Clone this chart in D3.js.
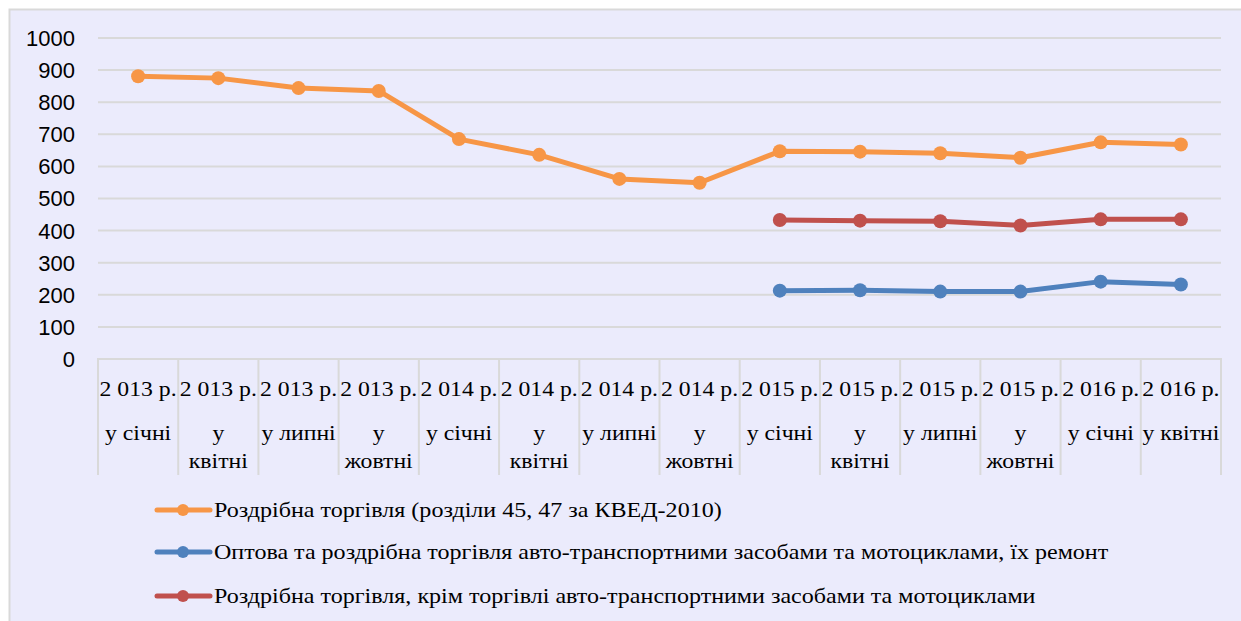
<!DOCTYPE html>
<html>
<head>
<meta charset="utf-8">
<script src="https://cdn.jsdelivr.net/npm/d3@7"></script>
<style>
  html, body { margin: 0; padding: 0; background: #ffffff; }
  svg { display: block; }
  .serif { font-family: "Liberation Serif", "Times New Roman", serif; }
  .sans { font-family: "Liberation Sans", Arial, sans-serif; }
</style>
</head>
<body>
<svg id="chart" width="1241" height="621"></svg>
<script>
// ---- data ----
const categories = [
  "2013-01", "2013-04", "2013-07", "2013-10",
  "2014-01", "2014-04", "2014-07", "2014-10",
  "2015-01", "2015-04", "2015-07", "2015-10",
  "2016-01", "2016-04"
];
const tickLabels = [
  ["2 013 р.", "у січні"], ["2 013 р.", "у", "квітні"], ["2 013 р.", "у липні"], ["2 013 р.", "у", "жовтні"],
  ["2 014 р.", "у січні"], ["2 014 р.", "у", "квітні"], ["2 014 р.", "у липні"], ["2 014 р.", "у", "жовтні"],
  ["2 015 р.", "у січні"], ["2 015 р.", "у", "квітні"], ["2 015 р.", "у липні"], ["2 015 р.", "у", "жовтні"],
  ["2 016 р.", "у січні"], ["2 016 р.", "у квітні"]
];
const retailAll = [881, 875, 844, 835, 685, 636, 561, 549, 647, 646, 641, 627, 675, 668];
const autoTrade = [null, null, null, null, null, null, null, null, 213, 214, 210, 210, 241, 232];
const retailExAuto = [null, null, null, null, null, null, null, null, 433, 431, 429, 416, 435, 435];
const seriesNames = [
  "Роздрібна торгівля (розділи 45, 47 за КВЕД-2010)",
  "Оптова та роздрібна торгівля авто-транспортними засобами та мотоциклами, їх ремонт",
  "Роздрібна торгівля, крім торгівлі авто-транспортними засобами та мотоциклами"
];
const yTicks = [0, 100, 200, 300, 400, 500, 600, 700, 800, 900, 1000];

// ---- styles ----
const colors = ["#F79646", "#4F81BD", "#C0504D"];
const series = [retailAll, autoTrade, retailExAuto];
const bg = "#EBEBFC";
const gridColor = "#D9D9D9";
const stretch = 1.13;
const legendStretch = 1.145;

const svg = d3.select("#chart");

// background
svg.append("rect").attr("x", 9.5).attr("y", 9.5).attr("width", 1250).attr("height", 640)
  .attr("fill", bg).attr("stroke", gridColor).attr("stroke-width", 2);

const x = d3.scaleBand().domain(categories).range([98, 1221]).padding(0);
const y = d3.scaleLinear().domain([0, 1000]).range([359, 38]);

// gridlines
svg.append("g").selectAll("line").data(yTicks.filter(d => d > 0)).join("line")
  .attr("x1", 98).attr("x2", 1221)
  .attr("y1", d => y(d)).attr("y2", d => y(d))
  .attr("stroke", gridColor).attr("stroke-width", 2);

// y tick labels
svg.append("g").selectAll("text").data(yTicks).join("text")
  .attr("class", "sans")
  .attr("x", 75).attr("y", d => y(d)).attr("dy", "0.36em")
  .attr("text-anchor", "end")
  .attr("font-size", 22).attr("fill", "#000")
  .text(d => d);

// x axis line + category separators
svg.append("line").attr("x1", 97).attr("x2", 1222).attr("y1", y(0)).attr("y2", y(0))
  .attr("stroke", gridColor).attr("stroke-width", 2);
const bounds = categories.map(c => x(c)).concat([x.range()[1]]);
svg.append("g").selectAll("line").data(bounds).join("line")
  .attr("x1", d => d).attr("x2", d => d).attr("y1", y(0)).attr("y2", 475)
  .attr("stroke", gridColor).attr("stroke-width", 2);

// x labels
const lineY = [396, 440, 468];
const xl = svg.append("g");
categories.forEach((c, i) => {
  const cx = x(c) + x.bandwidth() / 2;
  tickLabels[i].forEach((t, j) => {
    xl.append("text")
      .attr("class", "serif")
      .attr("transform", `translate(${cx},${lineY[j]}) scale(${stretch},1)`)
      .attr("text-anchor", "middle")
      .attr("font-size", 21).attr("fill", "#000")
      .text(t);
  });
});

// series
const line = d3.line()
  .defined(d => d.v !== null)
  .x(d => x(d.c) + x.bandwidth() / 2)
  .y(d => y(d.v));

series.forEach((s, k) => {
  const pts = s.map((v, i) => ({ c: categories[i], v }));
  svg.append("path").datum(pts)
    .attr("d", line).attr("fill", "none")
    .attr("stroke", colors[k]).attr("stroke-width", 5)
    .attr("stroke-linejoin", "round").attr("stroke-linecap", "round");
  svg.append("g").selectAll("circle").data(pts.filter(d => d.v !== null)).join("circle")
    .attr("cx", d => x(d.c) + x.bandwidth() / 2)
    .attr("cy", d => y(d.v))
    .attr("r", 7).attr("fill", colors[k]);
});

// legend
const legY = [510, 552, 596];
seriesNames.forEach((name, k) => {
  const g = svg.append("g");
  g.append("line").attr("x1", 157).attr("x2", 210).attr("y1", legY[k]).attr("y2", legY[k])
    .attr("stroke", colors[k]).attr("stroke-width", 5).attr("stroke-linecap", "round");
  g.append("circle").attr("cx", 183).attr("cy", legY[k]).attr("r", 6).attr("fill", colors[k]);
  g.append("text")
    .attr("class", "serif")
    .attr("transform", `translate(214,${legY[k] + 7}) scale(${legendStretch},1)`)
    .attr("font-size", 21).attr("fill", "#000")
    .text(name);
});
</script>
</body>
</html>
